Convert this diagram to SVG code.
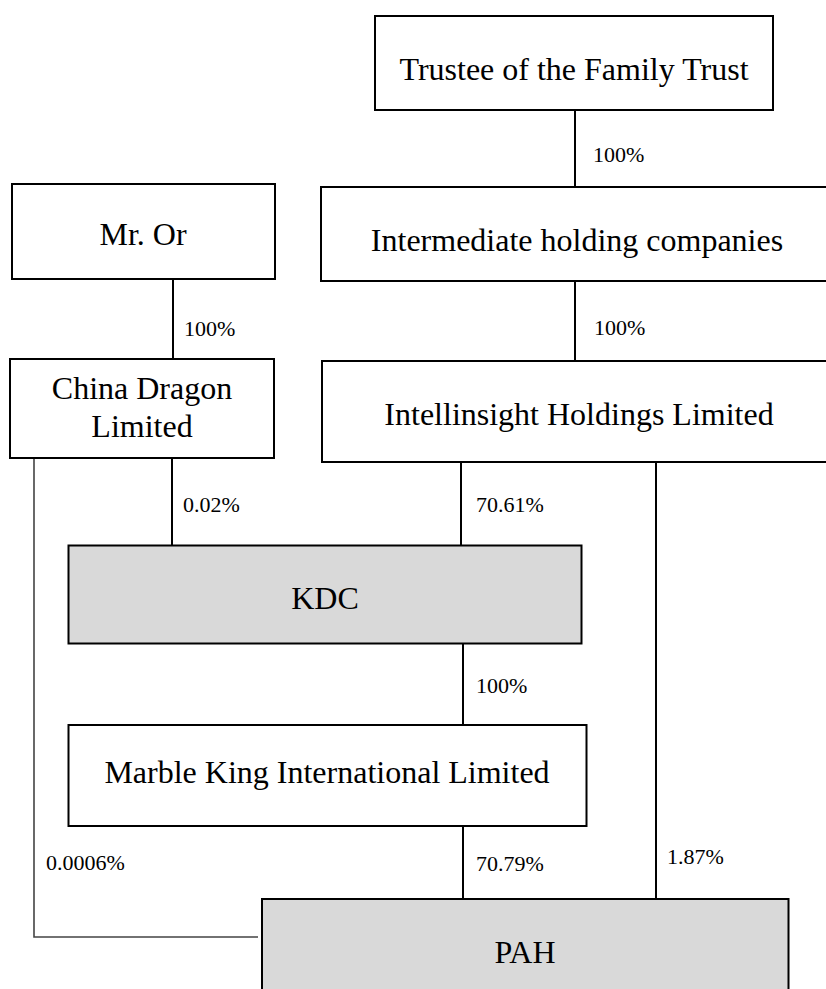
<svg xmlns="http://www.w3.org/2000/svg" width="826" height="989" viewBox="0 0 826 989">
<style>
.box{fill:#ffffff;stroke:#000000;stroke-width:2}
.shaded{fill:#d9d9d9;stroke:#000000;stroke-width:2}
.name{font-size:32px;fill:#000000;text-anchor:middle}
.pct{font-size:22px;fill:#000000}
.conn{stroke:#000000;stroke-width:2;fill:none}
.conn2{stroke:#444444;stroke-width:1.6;fill:none}
</style>
<rect width="826" height="989" fill="#ffffff"/>
<g font-family="Liberation Serif, Times New Roman, serif">
<g id="connectors">
<line class="conn" x1="575" y1="110" x2="575" y2="187"/>
<line class="conn" x1="173" y1="279" x2="173" y2="359"/>
<line class="conn" x1="575" y1="281" x2="575" y2="361"/>
<line class="conn" x1="172" y1="458" x2="172" y2="545"/>
<line class="conn" x1="461" y1="462" x2="461" y2="545"/>
<line class="conn" x1="656" y1="462" x2="656" y2="899"/>
<line class="conn" x1="463" y1="643" x2="463" y2="725"/>
<line class="conn" x1="463" y1="826" x2="463" y2="899"/>
<polyline class="conn2" points="34,458 34,937 258,937"/>
<text class="pct" x="593" y="162">100%</text>
<text class="pct" x="184" y="336">100%</text>
<text class="pct" x="594" y="335">100%</text>
<text class="pct" x="183" y="512">0.02%</text>
<text class="pct" x="476" y="512">70.61%</text>
<text class="pct" x="476" y="693">100%</text>
<text class="pct" x="46" y="870">0.0006%</text>
<text class="pct" x="476" y="871">70.79%</text>
<text class="pct" x="667" y="864">1.87%</text>
</g>
<g id="trustee">
<rect class="box" x="375" y="16" width="398" height="94"/>
<text class="name" x="574" y="80">Trustee of the Family Trust</text>
</g>
<g id="mr-or">
<rect class="box" x="12" y="184" width="263" height="95"/>
<text class="name" x="143" y="245">Mr. Or</text>
</g>
<g id="intermediate">
<rect class="box" x="321" y="187" width="512" height="94"/>
<text class="name" x="577" y="251">Intermediate holding companies</text>
</g>
<g id="china-dragon">
<rect class="box" x="10" y="359" width="264" height="99"/>
<text class="name" x="142" y="399">China Dragon</text>
<text class="name" x="142" y="437">Limited</text>
</g>
<g id="intellinsight">
<rect class="box" x="322" y="361" width="511" height="101"/>
<text class="name" x="579" y="425">Intellinsight Holdings Limited</text>
</g>
<g id="kdc">
<rect class="shaded" x="68.5" y="545.5" width="513" height="98"/>
<text class="name" x="325" y="609">KDC</text>
</g>
<g id="marble-king">
<rect class="box" x="68.5" y="725" width="518" height="101"/>
<text class="name" x="327" y="783">Marble King International Limited</text>
</g>
<g id="pah">
<rect class="shaded" x="262" y="899" width="526.5" height="100"/>
<text class="name" x="525" y="963">PAH</text>
</g>
</g>
</svg>
